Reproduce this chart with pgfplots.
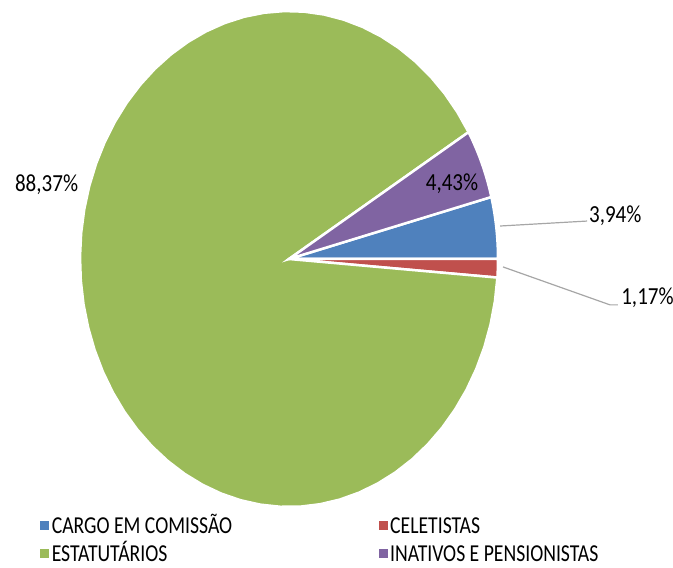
\documentclass[border=0pt]{standalone}
\usepackage{fontspec}
\setmainfont{Carlito}
\newfontfamily\cfont[FakeStretch=0.86]{Carlito}
\newfontfamily\lfont[FakeStretch=0.81]{Carlito}
\usepackage{pgfplots}
\usepackage{pgfplotstable}
\pgfplotsset{compat=1.18}

\definecolor{sblue}{RGB}{79,129,189}
\definecolor{sred}{RGB}{192,80,77}
\definecolor{sgreen}{RGB}{155,187,89}
\definecolor{spurple}{RGB}{128,100,162}
\definecolor{leader}{RGB}{166,166,166}

% share of each group (%)
\pgfplotstableread{
idx value
0 3.94
1 1.17
2 88.37
3 4.43
}\piedata

\begin{document}
\begin{tikzpicture}
\pgfplotstablegetelem{0}{value}\of\piedata \let\vCargo\pgfplotsretval
\pgfplotstablegetelem{1}{value}\of\piedata \let\vCelet\pgfplotsretval
\pgfplotstablegetelem{2}{value}\of\piedata \let\vEstat\pgfplotsretval
\pgfplotstablegetelem{3}{value}\of\piedata \let\vInat\pgfplotsretval
\pgfmathsetmacro\total{\vCargo+\vCelet+\vEstat+\vInat}
\pgfmathsetmacro\aCargo{\vCargo/\total*360}
\pgfmathsetmacro\aCelet{-\vCelet/\total*360}
\pgfmathsetmacro\aInat{\aCargo+\vInat/\total*360}
\pgfmathsetmacro\aEnd{360+\aCelet}

\useasboundingbox (0,0) rectangle (673pt,568pt);
\begin{axis}[
    scale only axis, width=418pt, height=496pt,
    xmin=-1, xmax=1, ymin=-1, ymax=1,
    hide axis, clip=false,
    at={(80pt,61pt)}, anchor=south west,
    legend columns=2, legend cell align=left,
    legend image code/.code={\fill[#1,draw=none] (0pt,-3.5pt) rectangle (9pt,5.5pt);},
    legend style={at={(axis cs:-1.191,-1.038)}, anchor=north west,
        draw=none, fill=none, inner sep=0pt, row sep=9pt,
        font=\lfont\fontsize{24.3}{26}\selectfont,
        nodes={inner xsep=2.5pt, inner ysep=0pt, text height=17pt, text depth=2pt},
        /tikz/every even column/.append style={column sep=144pt}},
    wedge/.style={fill=#1, draw=white, line width=2.5pt, samples=60},
]
\addplot[wedge=sblue, domain=0:\aCargo] ({cos(x)},{sin(x)}) -- (0,0) -- cycle;
\addlegendentry{CARGO EM COMISSÃO}
\addplot[wedge=sred, domain=\aCelet:0] ({cos(x)},{sin(x)}) -- (0,0) -- cycle;
\addlegendentry{CELETISTAS}
\addplot[wedge=sgreen, domain=\aInat:\aEnd] ({cos(x)},{sin(x)}) -- (0,0) -- cycle;
\addlegendentry{ESTATUTÁRIOS}
\addplot[wedge=spurple, domain=\aCargo:\aInat] ({cos(x)},{sin(x)}) -- (0,0) -- cycle;
\addlegendentry{INATIVOS E PENSIONISTAS}

\draw[leader, line width=1.2pt] (axis cs:1.01,0.133) -- (axis cs:1.426,0.153);
\draw[leader, line width=1.2pt] (axis cs:1.024,-0.032) -- (axis cs:1.536,-0.185) -- (axis cs:1.574,-0.185);
\begin{scope}[every node/.style={font=\cfont\fontsize{24.5}{26}\selectfont, inner sep=0pt}]
\node[anchor=base] at (axis cs:-1.160,0.274) {88,37\%};
\node[anchor=base] at (axis cs:0.78,0.278) {4,43\%};
\node[anchor=base west] at (axis cs:1.435,0.149) {3,94\%};
\node[anchor=base west] at (axis cs:1.589,-0.185) {1,17\%};
\end{scope}
\end{axis}
\end{tikzpicture}
\end{document}
